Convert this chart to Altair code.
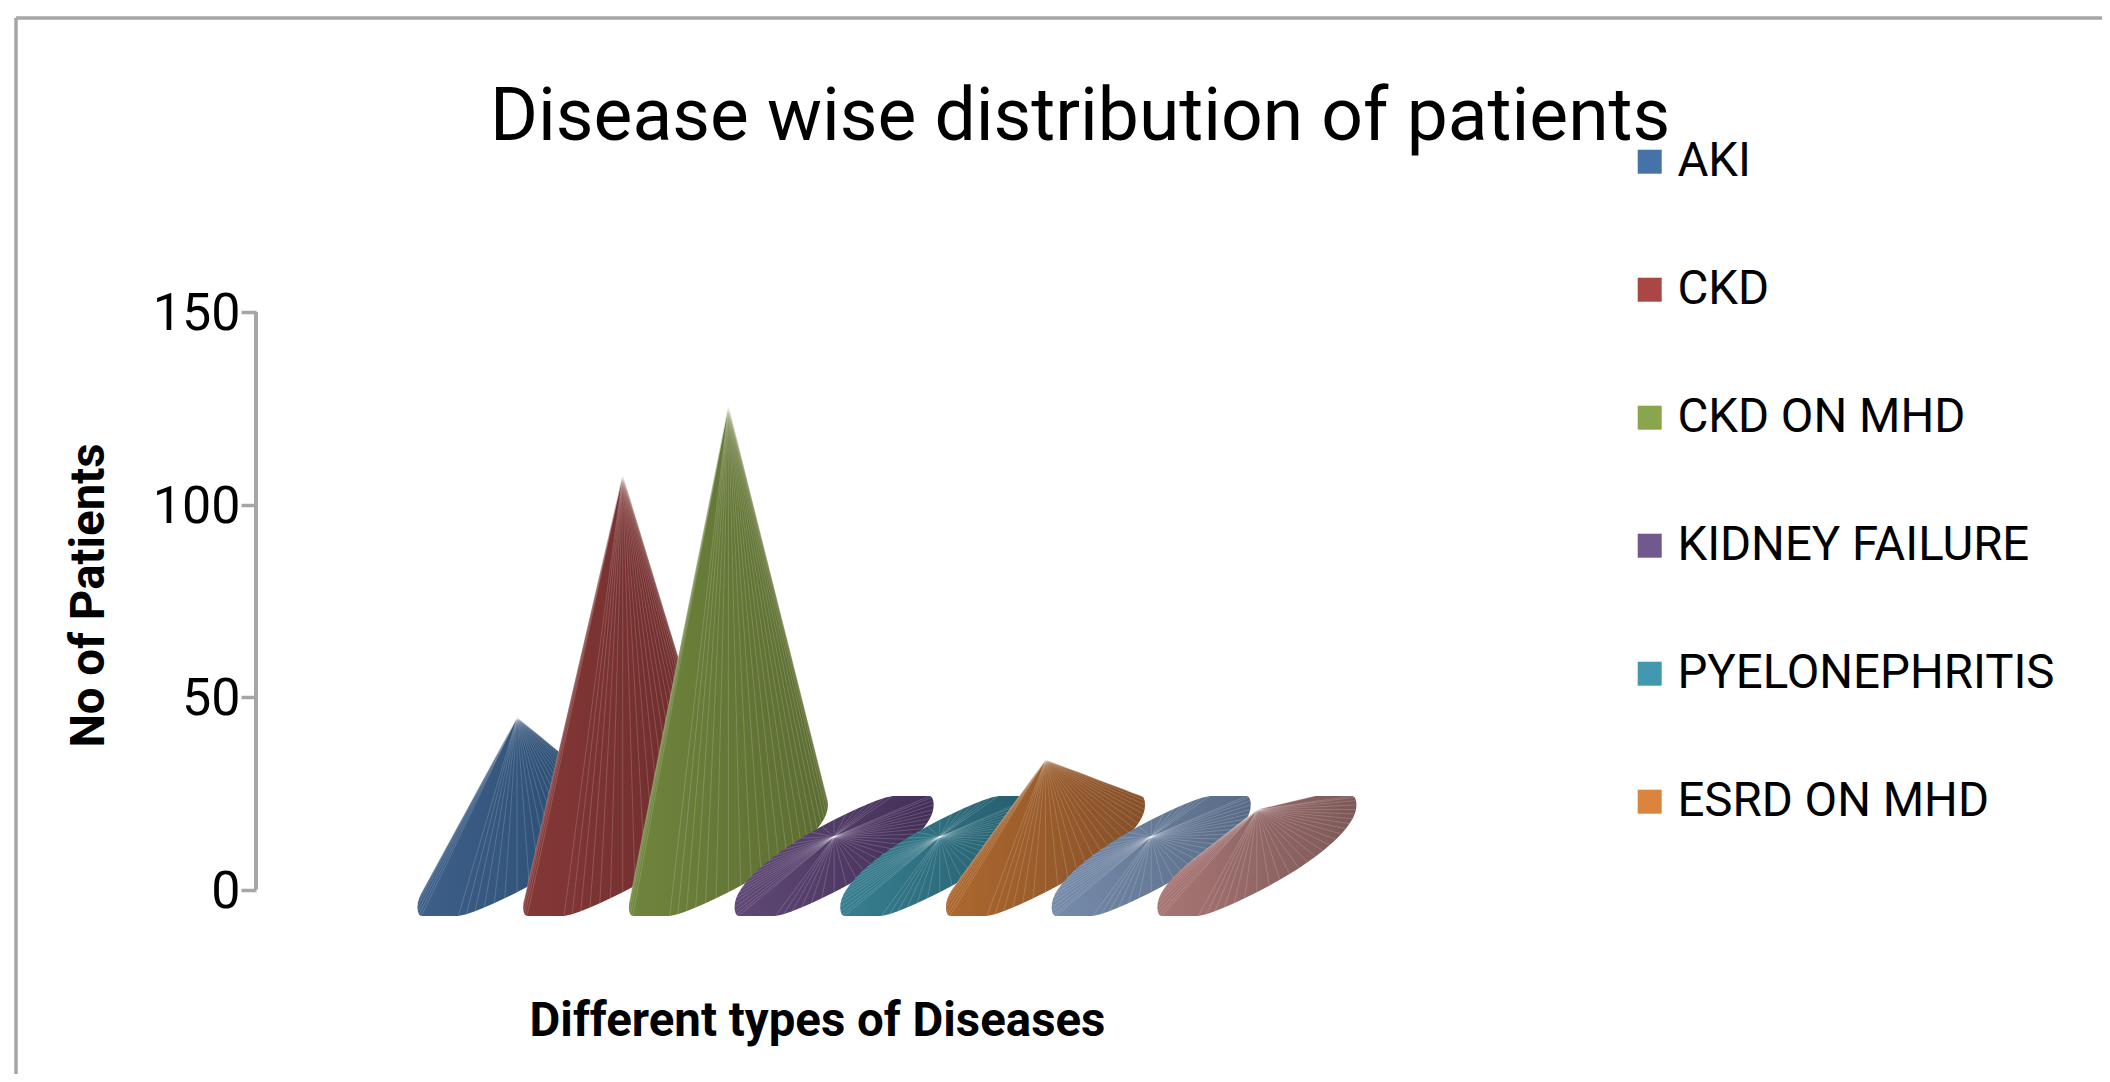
import math
import altair as alt
import pandas as pd

# Values
series = ["AKI", "CKD", "CKD ON MHD", "KIDNEY FAILURE", "PYELONEPHRITIS", "ESRD ON MHD", "OTHER A", "OTHER B"]
values = [36, 99, 117, 5, 5, 25, 5, 12]
legend_colors = ["#4572A7", "#AA4643", "#89A54E", "#71588F", "#4198AF", "#DB843D"]
light = ["#3E6089", "#853836", "#6F853C", "#5F4875", "#377F91", "#AD682E", "#768CAB", "#A87674"]
dark = ["#294A6E", "#6A2C2B", "#5B6C32", "#432F58", "#255C6B", "#85502A", "#586B85", "#7D5858"]
tick_values = [0, 50, 100, 150]

W, H = 2094, 1066
X0, PX_X = 509.0, 105.7      # pixel of first category, pixels per category
Y0, PX_Y = 881.5, 3.85       # pixel of value 0, pixels per value
x_scale = alt.Scale(domain=[-X0 / PX_X, (W - X0) / PX_X], range=[0, W], nice=False, zero=False)
y_scale = alt.Scale(domain=[(Y0 - H) / PX_Y, Y0 / PX_Y], range=[H, 0], nice=False, zero=False)

# 3-D cone geometry, in axis units
DEPTH = 8.7        # floor height of the cone bases behind the axis plane
BASE_X = 0.942     # half width of base ellipse
TILT = 13.3        # rise of ellipse along its long side
THICK = 9.4        # half thickness of ellipse
CLIP = 15.6        # flat cut of ellipse top and bottom
ROUND = 0.9        # superellipse exponent


def sp(a):
    return math.copysign(abs(a) ** ROUND, a)


def ellipse(i, n=64):
    pts = []
    for k in range(n):
        t = 2 * math.pi * k / n
        c, s = sp(math.cos(t)), sp(math.sin(t))
        dy = TILT * c + THICK * s
        dy = max(-CLIP, min(CLIP, dy))
        pts.append((i + BASE_X * c, DEPTH + dy))
    return pts


def hull(points):
    p = sorted(set(points))
    def cross(o, a, b):
        return (a[0] - o[0]) * (b[1] - o[1]) - (a[1] - o[1]) * (b[0] - o[0])
    lower, upper = [], []
    for q in p:
        while len(lower) > 1 and cross(lower[-2], lower[-1], q) <= 0:
            lower.pop()
        lower.append(q)
    for q in reversed(p):
        while len(upper) > 1 and cross(upper[-2], upper[-1], q) <= 0:
            upper.pop()
        upper.append(q)
    return lower, upper[::-1]


def interp(chain, x):
    for a, b in zip(chain, chain[1:]):
        if a[0] <= x <= b[0] and b[0] > a[0]:
            return a[1] + (b[1] - a[1]) * (x - a[0]) / (b[0] - a[0])
    return chain[0][1] if x <= chain[0][0] else chain[-1][1]


# Axes (real axes, pushed into place)
y_axis = alt.Axis(
    values=tick_values, offset=-248, domain=False, grid=False, tickSize=15, tickColor="#A6A6A6", tickWidth=3.5,
    labelFont="Roboto", labelFontSize=52, labelColor="#000000", labelPadding=1, labelOffset=1.5,
    title="No of Patients", titleFont="Roboto", titleFontSize=47.4, titleFontWeight="bold", titleColor="#000000",
    titleAngle=-90, titleX=-167, titleY=587, titleAlign="center", titleBaseline="middle",
)
x_axis = alt.Axis(
    labels=False, ticks=False, domain=False, grid=False,
    title="Different types of Diseases", titleFont="Roboto", titleFontSize=47.4, titleFontWeight="bold",
    titleColor="#000000", titleX=809, titleY=-53, titleAlign="center", titleBaseline="middle",
)


def xc():
    return alt.X("x:Q", scale=x_scale, axis=x_axis)


def yc():
    return alt.Y("y:Q", scale=y_scale, axis=y_axis)


layers = []

axis_df = pd.DataFrame({"x": [-X0 / PX_X + 248 / PX_X], "y": [tick_values[0]], "y2": [tick_values[-1]]})
layers.append(
    alt.Chart(axis_df).mark_rule(color="#A6A6A6", strokeWidth=4).encode(x=xc(), y=yc(), y2="y2:Q")
)

# Cones
for i, v in enumerate(values):
    apex = (float(i), DEPTH + v)
    base = ellipse(i)
    lo, up = hull(base + [apex])
    xs = sorted({p[0] for p in lo + up})
    area_df = pd.DataFrame({"x": xs, "y": [interp(lo, x) for x in xs], "y2": [interp(up, x) for x in xs]})
    layers.append(
        alt.Chart(area_df).mark_area(
            orient="vertical",
            color=alt.Gradient(
                gradient="linear", x1=0, x2=1, y1=0, y2=0,
                stops=[alt.GradientStop(offset=0, color=light[i]), alt.GradientStop(offset=1, color=dark[i])],
            ),
        ).encode(x=xc(), y=yc(), y2="y2:Q")
    )
    verts = sorted({p for p in lo + up if p != apex})
    spoke_df = pd.DataFrame({
        "x": [apex[0]] * len(verts), "y": [apex[1]] * len(verts),
        "x2": [p[0] for p in verts], "y2": [p[1] for p in verts],
    })
    layers.append(
        alt.Chart(spoke_df).mark_rule(color="#FFFFFF", opacity=0.17, strokeWidth=1).encode(
            x=xc(), y=yc(), x2="x2:Q", y2="y2:Q"
        )
    )

# Legend carrier: invisible points at the apexes
legend_df = pd.DataFrame({
    "x": list(range(6)), "y": [DEPTH + v for v in values[:6]], "series": series[:6],
})
layers.append(
    alt.Chart(legend_df).mark_point(filled=True, size=1, opacity=0).encode(
        x=xc(), y=yc(),
        color=alt.Color(
            "series:N",
            scale=alt.Scale(domain=series[:6], range=legend_colors),
            legend=alt.Legend(
                orient="none", legendX=1618, legendY=130, title=None, symbolType="square", symbolSize=576,
                symbolOpacity=1, symbolStrokeWidth=0, labelFont="Roboto", labelFontSize=47.4, labelColor="#000000",
                labelLimit=600, labelOffset=4, rowPadding=79,
            ),
        ),
    )
)

# Chart frame
frame_df = pd.DataFrame({"k": [0]})
layers.append(alt.Chart(frame_df).mark_rule(color="#A6A6A6", strokeWidth=3.5).encode(
    x=alt.value(8), y=alt.value(10), y2=alt.value(H)))
layers.append(alt.Chart(frame_df).mark_rule(color="#A6A6A6", strokeWidth=3.5).encode(
    x=alt.value(8), x2=alt.value(W), y=alt.value(10)))

chart = alt.layer(*layers).properties(
    width=W, height=H, padding=0, autosize=alt.AutoSizeParams(type="none"),
    title=alt.TitleParams(
        "Disease wise distribution of patients", font="Roboto", fontSize=73.2, fontWeight="normal", color="#000000",
        anchor="start", dx=482, offset=-183, baseline="middle",
    ),
).configure_view(stroke=None)

chart.save("out.html", embed_options={"renderer": "svg", "actions": False})
